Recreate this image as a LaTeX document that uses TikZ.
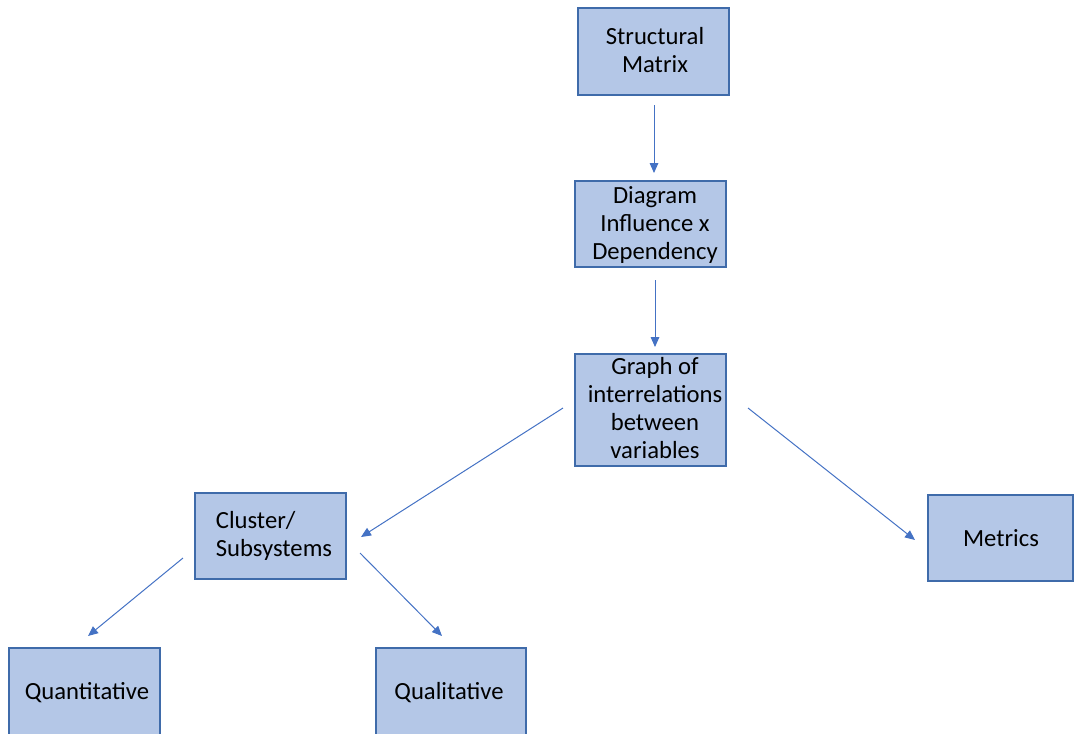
\documentclass[tikz,border=0pt]{standalone}
\usepackage{fontspec}
\setmainfont{Carlito}
\usetikzlibrary{arrows.meta}
\definecolor{boxfill}{HTML}{B4C7E7}
\definecolor{boxline}{HTML}{3F6BAA}
\definecolor{arrowblue}{HTML}{4472C4}
\begin{document}
\begin{tikzpicture}[x=0.75pt,y=-0.75pt,
  box/.style={draw=boxline, line width=1pt, fill=boxfill, inner sep=0pt,
    minimum width=151*0.75pt, minimum height=86*0.75pt},
  label/.style={font=\fontsize{18.5pt}{21pt}\selectfont, align=center, text=black, inner sep=0pt},
  link/.style={draw=arrowblue, line width=0.75pt, -{Triangle[length=7.5pt,width=6.5pt]}}]
\useasboundingbox (0,0) rectangle (1075,733);
\clip (0,0) rectangle (1075,733);
% boxes
\node[box, minimum height=87*0.75pt] (sm) at (653.5,51.5) {};
\node[box] (dia) at (650.5,224) {};
\node[box, minimum height=112*0.75pt] (gr) at (650.5,410) {};
\node[box] (cl) at (270.5,536) {};
\node[box, minimum width=145*0.75pt] (met) at (1000.5,538) {};
\node[box, minimum height=88*0.75pt] (qn) at (84.5,692) {};
\node[box, minimum width=150*0.75pt, minimum height=88*0.75pt] (ql) at (451,692) {};
% box texts
\node[label] (smt) at (655,50) {Structural\\Matrix};
\node[label] (diat) at (655,225) {Diagram\\Influence x\\Dependency};
\node[label] (grt) at (655,408) {Graph of\\interrelations\\between\\variables};
\node[label, align=left] (clt) at (274,536) {Cluster/\\Subsystems};
\node[label] (mett) at (1001,538) {Metrics};
\node[label] (qnt) at (87,693) {Quantitative};
\node[label] (qlt) at (449,693) {Qualitative};
% free ends of the connectors
\coordinate (a1) at (654,105);  \coordinate (b1) at (654,173);
\coordinate (a2) at (655,280);  \coordinate (b2) at (655,347);
\coordinate (a3) at (563,408);  \coordinate (b3) at (361,537);
\coordinate (a4) at (748,408);  \coordinate (b4) at (915,540);
\coordinate (a5) at (183,558);  \coordinate (b5) at (88,636);
\coordinate (a6) at (360,553);  \coordinate (b6) at (442,636);
% connectors
\draw[link] (a1) -- (b1);
\draw[link] (a2) -- (b2);
\draw[link] (a3) -- (b3);
\draw[link] (a4) -- (b4);
\draw[link] (a5) -- (b5);
\draw[link] (a6) -- (b6);
\end{tikzpicture}
\end{document}
